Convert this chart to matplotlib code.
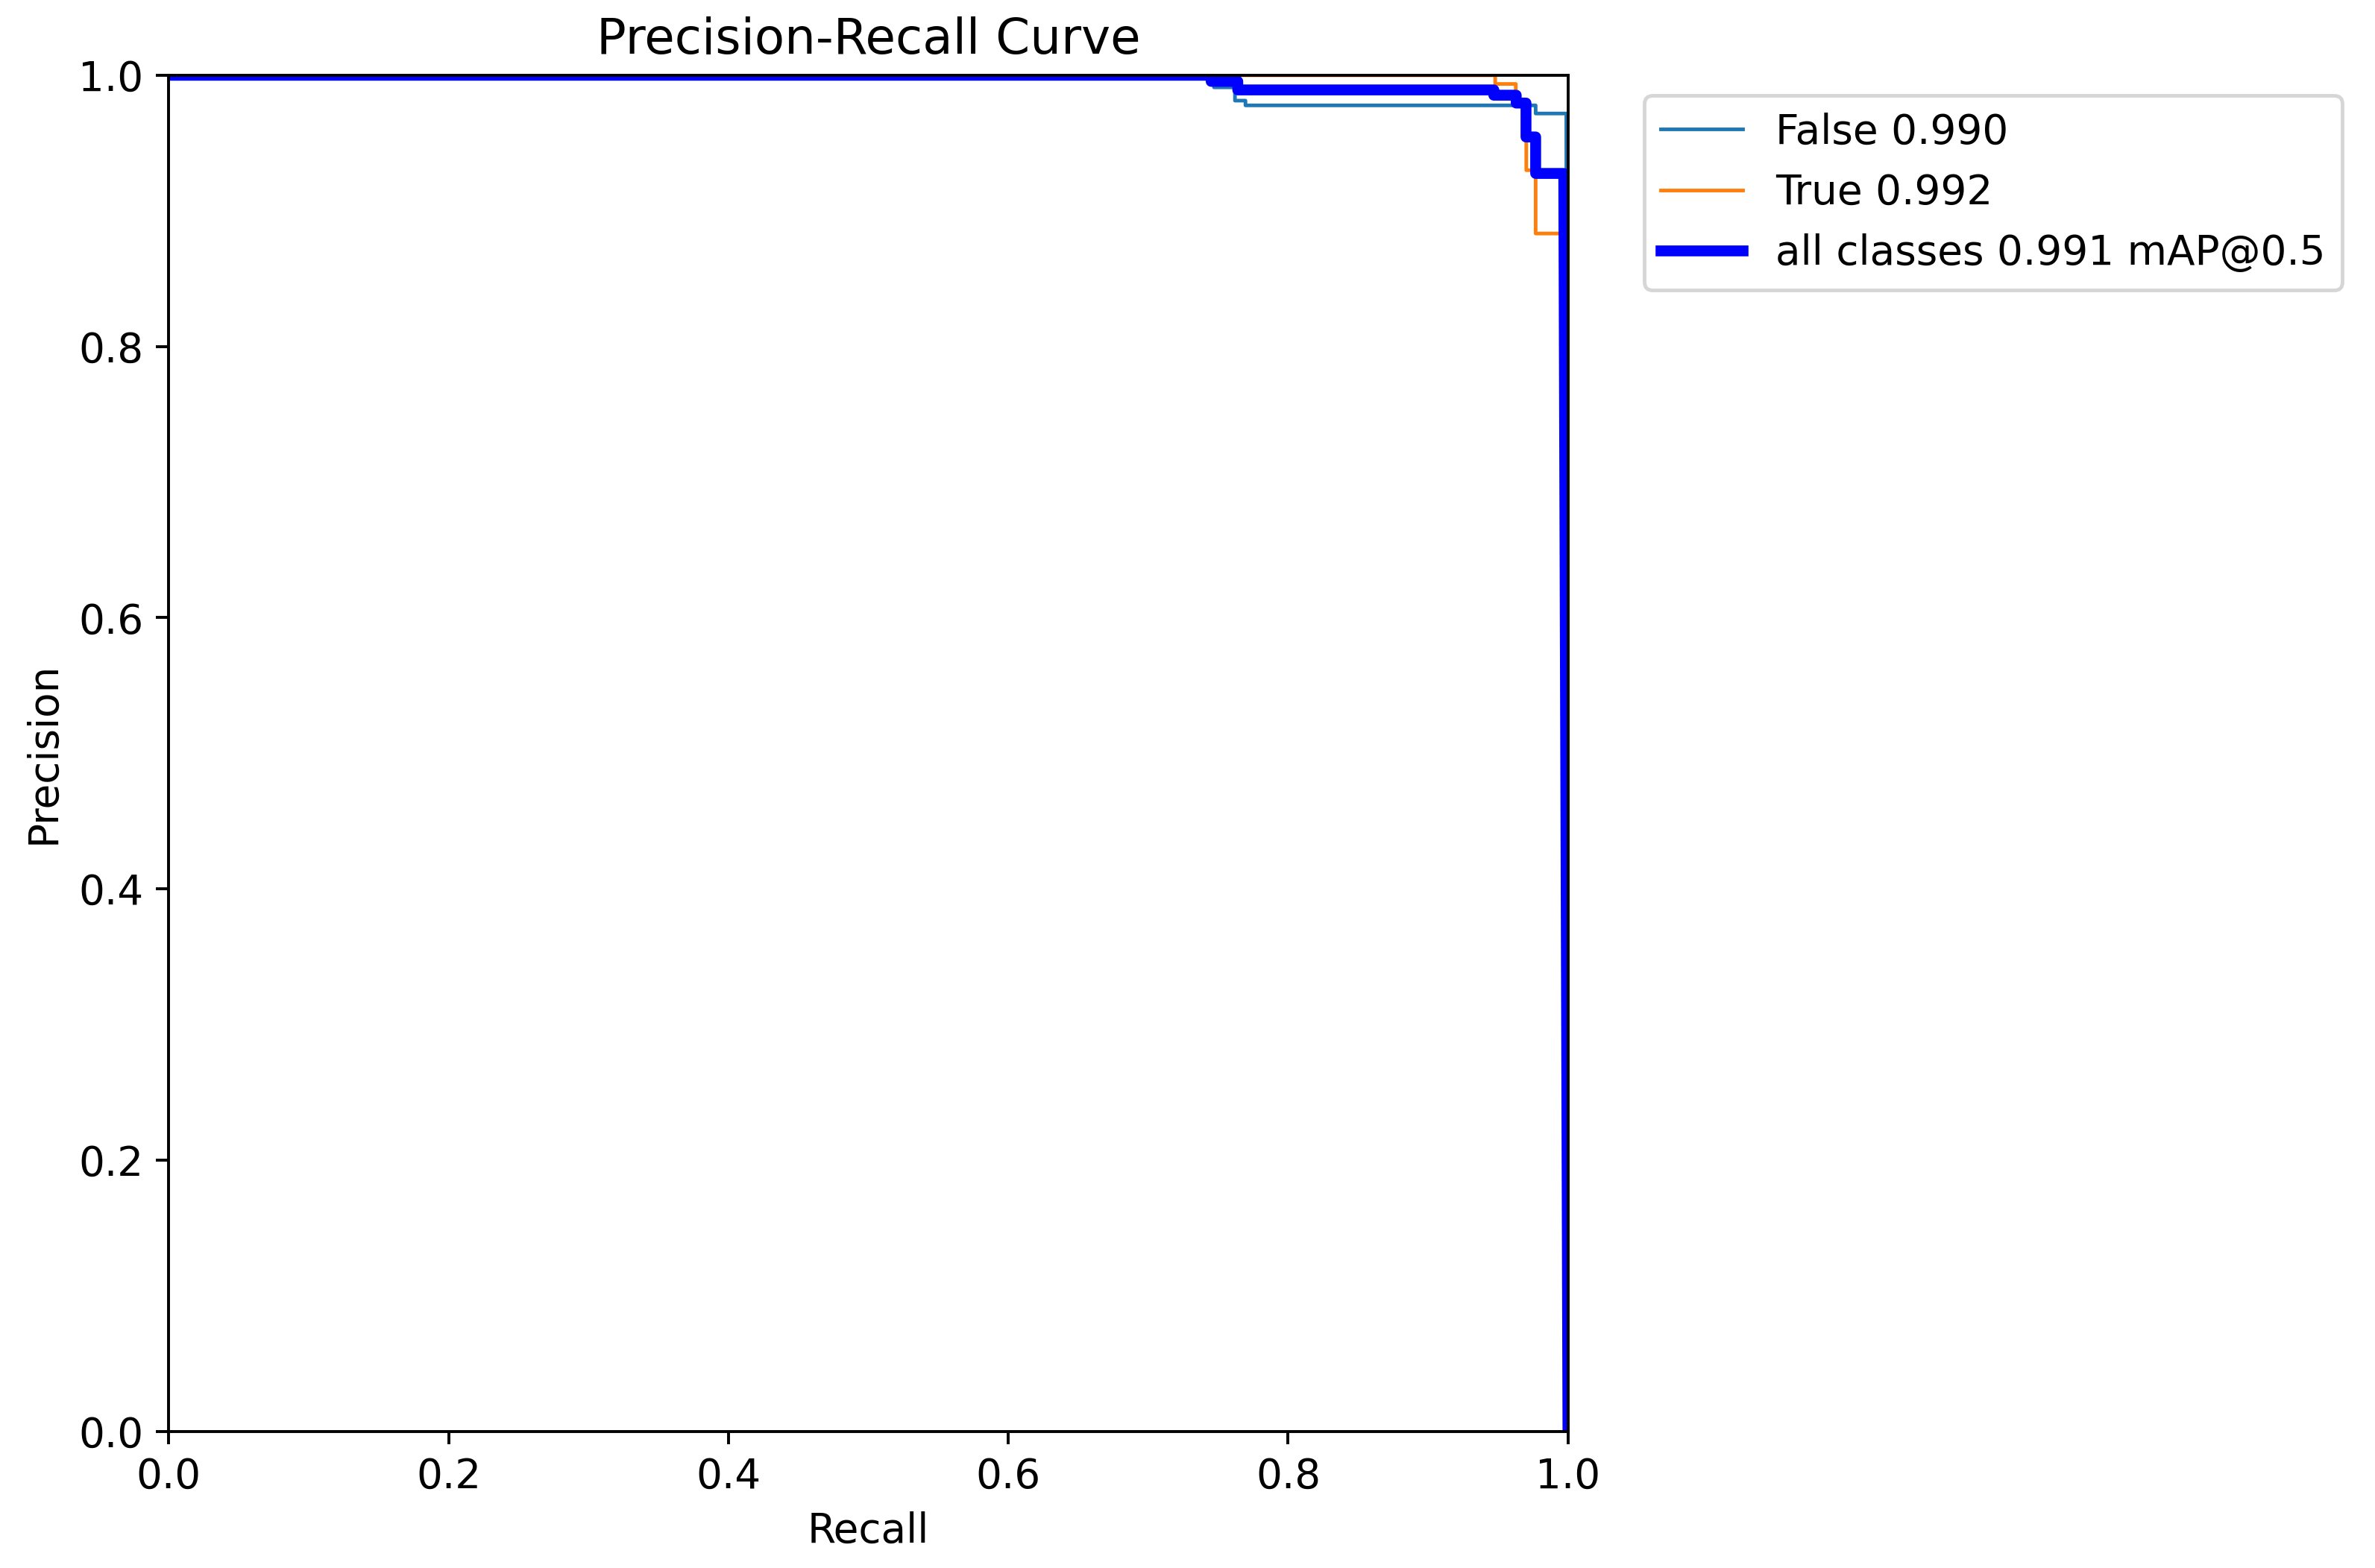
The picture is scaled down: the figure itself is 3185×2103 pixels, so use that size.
import matplotlib
matplotlib.use("Agg")
import matplotlib.pyplot as plt

# Class "False" precision-recall curve (step vertices)
false_recall = [0.0, 0.747, 0.747, 0.762, 0.762, 0.7695, 0.7695, 0.9769, 0.9769, 0.9988, 1.0]
false_precision = [1.0, 1.0, 0.9911, 0.9911, 0.9813, 0.9813, 0.9778, 0.9778, 0.9718, 0.9718, 0.0]

# Class "True" precision-recall curve
true_recall = [0.0, 0.948, 0.948, 0.9627, 0.9627, 0.9702, 0.9702, 0.9769, 0.9769, 0.997, 1.0]
true_precision = [1.0, 1.0, 0.9936, 0.9936, 0.981, 0.981, 0.930, 0.930, 0.8833, 0.8833, 0.0]

# All classes (mean) curve
all_recall = [0.0, 0.745, 0.745, 0.764, 0.764, 0.947, 0.947, 0.963, 0.963, 0.970, 0.970, 0.9769, 0.9769, 0.997, 1.0]
all_precision = [1.0, 1.0, 0.9955, 0.9955, 0.9892, 0.9892, 0.9853, 0.9853, 0.9795, 0.9795, 0.9545, 0.9545, 0.9276, 0.9276, 0.0]

labels = ["False 0.990", "True 0.992", "all classes 0.991 mAP@0.5"]

plt.rcParams["font.family"] = ["DejaVu Sans"]
plt.rcParams["font.size"] = 11.3

fig, ax = plt.subplots(figsize=(3185 / 350, 2103 / 350), dpi=350)
fig.subplots_adjust(left=0.07105, right=0.6602, top=0.9520, bottom=0.0872)

ax.plot(false_recall, false_precision, linewidth=1, color="#1f77b4", label=labels[0])
ax.plot(true_recall, true_precision, linewidth=1, color="#ff7f0e", label=labels[1])
ax.plot(all_recall, all_precision, linewidth=3, color="blue", label=labels[2])

ax.set_xlabel("Recall")
ax.set_ylabel("Precision")
ax.set_xlim(0, 1)
ax.set_ylim(0, 1)
ax.set_title("Precision-Recall Curve")
ax.legend(bbox_to_anchor=(1.04, 1), loc="upper left")

fig.savefig("out.png", dpi=350)
